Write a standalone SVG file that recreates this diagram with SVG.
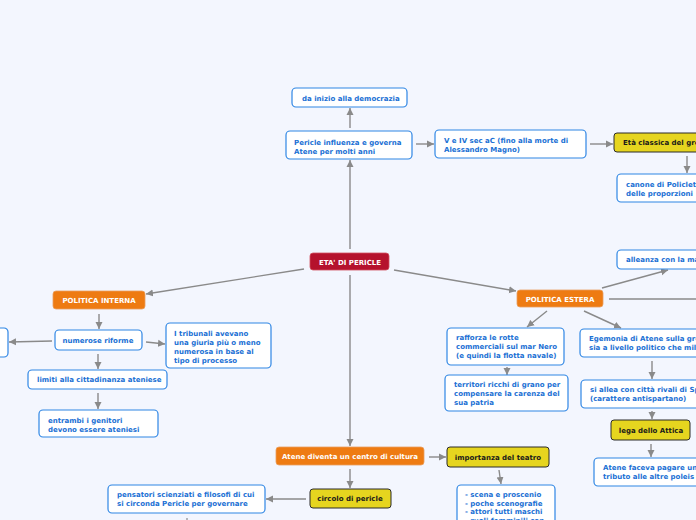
<svg xmlns="http://www.w3.org/2000/svg" width="696" height="520" viewBox="0 0 696 520">
<style>
.bg{fill:#f3f6fe}
.n{fill:#ffffff;stroke:#2f86e4;stroke-width:1.2}
.o{fill:#ee7b12;stroke:#e8a060;stroke-width:0.8}
.y{fill:#e6d51f;stroke:#2b2b2b;stroke-width:1}
.c{fill:#b5122d;stroke:#d05060;stroke-width:0.8}
text{font-family:"DejaVu Sans","Verdana",sans-serif;font-weight:bold;font-size:7px}
.t{fill:#1a70d4}
.w{fill:#ffffff;text-anchor:middle}
.k{fill:#1a1a1a;text-anchor:middle}
.l{stroke:#8a8a8a;stroke-width:1.4;fill:none;marker-end:url(#a)}
</style>
<defs>
<marker id="a" markerUnits="userSpaceOnUse" markerWidth="8" markerHeight="8" refX="7" refY="4" orient="auto">
<path d="M0,0.5 L7,4 L0,7.5 z" fill="#8a8a8a"/>
</marker>
</defs>
<rect class="bg" x="0" y="0" width="696" height="520"/>
<g id="connectors">
<line class="l" x1="350" y1="249" x2="350" y2="160"/>
<line class="l" x1="350" y1="128" x2="350" y2="108"/>
<line class="l" x1="416" y1="144" x2="434" y2="144"/>
<line class="l" x1="590" y1="144" x2="613" y2="144"/>
<line class="l" x1="687" y1="156" x2="687" y2="173"/>
<line class="l" x1="304" y1="269" x2="146" y2="294"/>
<line class="l" x1="394" y1="270" x2="516" y2="291"/>
<line class="l" x1="350" y1="275" x2="350" y2="446"/>
<line class="l" x1="602" y1="288" x2="668" y2="270"/>
<line class="l" x1="609" y1="299" x2="700" y2="299" style="marker-end:none"/>
<line class="l" x1="547" y1="311" x2="527" y2="327"/>
<line class="l" x1="584" y1="311" x2="621" y2="328"/>
<line class="l" x1="507" y1="367" x2="507" y2="375"/>
<line class="l" x1="652" y1="361" x2="652" y2="379"/>
<line class="l" x1="652" y1="411" x2="652" y2="419"/>
<line class="l" x1="651" y1="444" x2="651" y2="457"/>
<line class="l" x1="429" y1="457" x2="446" y2="457"/>
<line class="l" x1="499" y1="470" x2="501" y2="484"/>
<line class="l" x1="350" y1="469" x2="350" y2="488"/>
<line class="l" x1="306" y1="499" x2="266" y2="499"/>
<line x1="187" y1="518" x2="187" y2="522" stroke="#8a8a8a" stroke-width="1.2"/>
<line class="l" x1="99" y1="314" x2="99" y2="329"/>
<line class="l" x1="52" y1="341" x2="9" y2="342"/>
<line class="l" x1="146" y1="342" x2="165" y2="344"/>
<line class="l" x1="98" y1="354" x2="98" y2="369"/>
<line class="l" x1="98" y1="393" x2="98" y2="409"/>
</g>
<g id="n-center"><rect class="c" x="310" y="253" width="79" height="17" rx="3"/><text class="w" x="350" y="264.5">ETA' DI PERICLE</text></g>
<g id="n-inizio"><rect class="n" x="292" y="88" width="115" height="19" rx="4"/><text class="t" x="302" y="100.5">da inizio alla democrazia</text></g>
<g id="n-pericle"><rect class="n" x="286" y="131" width="126" height="28" rx="4"/><text class="t" x="294" y="144.5">Pericle influenza e governa</text><text class="t" x="294" y="153.5">Atene per molti anni</text></g>
<g id="n-sec"><rect class="n" x="435" y="130" width="151" height="28" rx="4"/><text class="t" x="444" y="143">V e IV sec aC (fino alla morte di</text><text class="t" x="444" y="152">Alessandro Magno)</text></g>
<g id="n-eta"><rect class="y" x="614" y="133" width="100" height="19" rx="3"/><text class="k" x="623" y="145" style="text-anchor:start">Età classica del gre</text></g>
<g id="n-canone"><rect class="n" x="617" y="174" width="100" height="28" rx="4"/><text class="t" x="626" y="187">canone di Policleto</text><text class="t" x="626" y="196">delle proporzioni</text></g>
<g id="n-alleanza"><rect class="n" x="617" y="250" width="100" height="19" rx="4"/><text class="t" x="626" y="262">alleanza con la ma</text></g>
<g id="n-estera"><rect class="o" x="517" y="290" width="86" height="17" rx="3"/><text class="w" x="560" y="301.5">POLITICA ESTERA</text></g>
<g id="n-interna"><rect class="o" x="53" y="291" width="92" height="18" rx="3"/><text class="w" x="99" y="302.5">POLITICA INTERNA</text></g>
<g id="n-riforme"><rect class="n" x="55" y="330" width="87" height="20" rx="4"/><text class="t" x="98" y="343" style="text-anchor:middle">numerose riforme</text></g>
<g id="n-left"><rect class="n" x="-20" y="328" width="28" height="29" rx="4"/></g>
<g id="n-tribunali"><rect class="n" x="166" y="323" width="105" height="45" rx="4"/><text class="t" x="174" y="335.5">I tribunali avevano</text><text class="t" x="174" y="344.5">una giuria più o meno</text><text class="t" x="174" y="353.5">numerosa in base al</text><text class="t" x="174" y="362.5">tipo di processo</text></g>
<g id="n-limiti"><rect class="n" x="28" y="370" width="139" height="19" rx="4"/><text class="t" x="37" y="382">limiti alla cittadinanza ateniese</text></g>
<g id="n-genitori"><rect class="n" x="39" y="410" width="119" height="27" rx="4"/><text class="t" x="48" y="423">entrambi i genitori</text><text class="t" x="48" y="432">devono essere ateniesi</text></g>
<g id="n-rafforza"><rect class="n" x="447" y="328" width="117" height="37" rx="4"/><text class="t" x="456" y="340">rafforza le rotte</text><text class="t" x="456" y="349">commerciali sul mar Nero</text><text class="t" x="456" y="358">(e quindi la flotta navale)</text></g>
<g id="n-territori"><rect class="n" x="445" y="375" width="123" height="36" rx="4"/><text class="t" x="454" y="387">territori ricchi di grano per</text><text class="t" x="454" y="396">compensare la carenza del</text><text class="t" x="454" y="405">sua patria</text></g>
<g id="n-egemonia"><rect class="n" x="580" y="329" width="130" height="28" rx="4"/><text class="t" x="589" y="341">Egemonia di Atene sulla gre</text><text class="t" x="589" y="350">sia a livello politico che mili</text></g>
<g id="n-allea"><rect class="n" x="581" y="380" width="130" height="28" rx="4"/><text class="t" x="590" y="392">si allea con città rivali di Sp</text><text class="t" x="590" y="401">(carattere antispartano)</text></g>
<g id="n-lega"><rect class="y" x="611" y="420" width="79" height="20" rx="3"/><text class="k" x="651" y="432.5">lega dello Attica</text></g>
<g id="n-tributo"><rect class="n" x="594" y="458" width="120" height="28" rx="4"/><text class="t" x="603" y="470">Atene faceva pagare un</text><text class="t" x="603" y="479">tributo alle altre poleis</text></g>
<g id="n-cultura"><rect class="o" x="276" y="447" width="148" height="18" rx="3"/><text class="w" x="350" y="458.5">Atene diventa un centro di cultura</text></g>
<g id="n-teatro"><rect class="y" x="447" y="447" width="102" height="20" rx="3"/><text class="k" x="498" y="459.5">importanza del teatro</text></g>
<g id="n-circolo"><rect class="y" x="310" y="489" width="81" height="19" rx="3"/><text class="k" x="350" y="501">circolo di pericle</text></g>
<g id="n-pensatori"><rect class="n" x="108" y="485" width="157" height="28" rx="4"/><text class="t" x="117" y="497">pensatori scienziati e filosofi di cui</text><text class="t" x="117" y="506">si circonda Pericle per governare</text></g>
<g id="n-scena"><rect class="n" x="457" y="485" width="98" height="50" rx="4"/><text class="t" x="465" y="497">- scena e proscenio</text><text class="t" x="465" y="505.5">- poche scenografie</text><text class="t" x="465" y="514">- attori tutti maschi</text><text class="t" x="465" y="522.5">- ruoli femminili con</text></g>
</svg>
